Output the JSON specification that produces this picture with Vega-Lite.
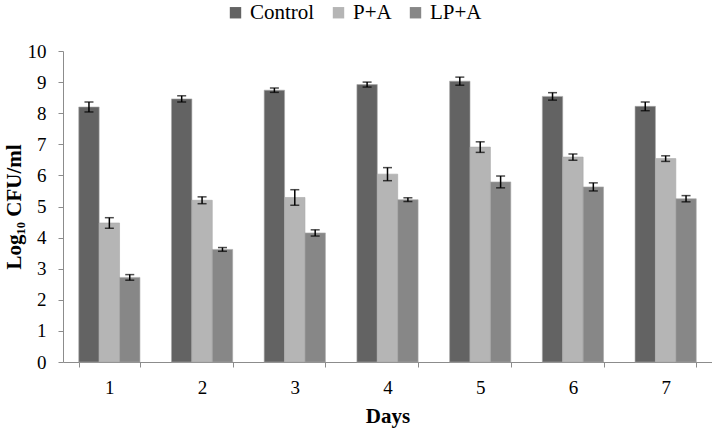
{
  "$schema": "https://vega.github.io/schema/vega-lite/v6.json",
  "autosize": "none",
  "width": 649,
  "height": 311,
  "padding": {"left": 63, "top": 51, "right": 0, "bottom": 66},
  "background": "white",
  "config": {
    "view": {"stroke": null},
    "font": "Liberation Serif",
    "axis": {"labelFont": "Liberation Serif", "titleFont": "Liberation Serif", "labelColor": "black", "titleColor": "black", "domainColor": "#8c8c8c", "tickColor": "#8c8c8c", "grid": false},
    "axisY": {"values": [0,1,2,3,4,5,6,7,8,9,10], "labelOverlap": false, "labelFontSize": 19, "titleFontSize": 21, "titleFontWeight": "bold", "tickSize": 5, "labelPadding": 12, "titlePadding": 3},
    "legend": {"labelFont": "Liberation Serif", "titleFont": "Liberation Serif", "labelFontSize": 21, "labelColor": "black"}
  },
  "data": {"values": [
    {"day": "1", "group": "Control", "v": 8.2, "lo": 8.04, "hi": 8.36},
    {"day": "1", "group": "P+A", "v": 4.47, "lo": 4.3, "hi": 4.64},
    {"day": "1", "group": "LP+A", "v": 2.72, "lo": 2.63, "hi": 2.81},
    {"day": "2", "group": "Control", "v": 8.46, "lo": 8.36, "hi": 8.56},
    {"day": "2", "group": "P+A", "v": 5.2, "lo": 5.09, "hi": 5.31},
    {"day": "2", "group": "LP+A", "v": 3.62, "lo": 3.56, "hi": 3.68},
    {"day": "3", "group": "Control", "v": 8.74, "lo": 8.67, "hi": 8.81},
    {"day": "3", "group": "P+A", "v": 5.29, "lo": 5.04, "hi": 5.54},
    {"day": "3", "group": "LP+A", "v": 4.15, "lo": 4.05, "hi": 4.25},
    {"day": "4", "group": "Control", "v": 8.92, "lo": 8.84, "hi": 9.0},
    {"day": "4", "group": "P+A", "v": 6.04, "lo": 5.83, "hi": 6.25},
    {"day": "4", "group": "LP+A", "v": 5.22, "lo": 5.16, "hi": 5.28},
    {"day": "5", "group": "Control", "v": 9.03, "lo": 8.9, "hi": 9.16},
    {"day": "5", "group": "P+A", "v": 6.91, "lo": 6.74, "hi": 7.08},
    {"day": "5", "group": "LP+A", "v": 5.79, "lo": 5.6, "hi": 5.98},
    {"day": "6", "group": "Control", "v": 8.54, "lo": 8.42, "hi": 8.66},
    {"day": "6", "group": "P+A", "v": 6.59, "lo": 6.49, "hi": 6.69},
    {"day": "6", "group": "LP+A", "v": 5.63, "lo": 5.5, "hi": 5.76},
    {"day": "7", "group": "Control", "v": 8.22, "lo": 8.08, "hi": 8.36},
    {"day": "7", "group": "P+A", "v": 6.54, "lo": 6.45, "hi": 6.63},
    {"day": "7", "group": "LP+A", "v": 5.25, "lo": 5.15, "hi": 5.35}
  ]},
  "encoding": {
    "x": {"field": "day", "type": "ordinal", "title": "Days",
      "scale": {"paddingInner": 0.34, "paddingOuter": 0.17},
      "axis": {"labelAngle": 0, "labelFontSize": 19, "titleFontSize": 21, "titleFontWeight": "bold", "tickBand": "extent", "tickSize": 5, "labelPadding": 11, "titlePadding": 8}},
    "xOffset": {"field": "group", "type": "nominal", "sort": ["Control", "P+A", "LP+A"]}
  },
  "layer": [
    {
      "mark": {"type": "bar", "stroke": "#a8a8a8", "strokeWidth": 0.6},
      "encoding": {
        "y": {"field": "v", "type": "quantitative", "title": "Log₁₀ CFU/ml",
          "scale": {"domain": [0, 10], "nice": false},
          "axis": {"values": [0,1,2,3,4,5,6,7,8,9,10], "labelOverlap": false}},
        "color": {"field": "group", "type": "nominal", "sort": ["Control", "P+A", "LP+A"],
          "scale": {"domain": ["Control", "P+A", "LP+A"], "range": ["#636363", "#b5b5b5", "#878787"]},
          "legend": {"title": null, "orient": "none", "direction": "horizontal", "legendX": 162, "legendY": -49, "symbolType": "square", "symbolSize": 130, "symbolStrokeWidth": 0, "labelFontSize": 21, "labelFont": "Liberation Serif", "labelColor": "black", "columnPadding": 13, "labelOffset": 4}}
      }
    },
    {
      "mark": {"type": "rule", "color": "black", "strokeWidth": 1.5},
      "encoding": {"y": {"field": "lo", "type": "quantitative", "title": "Log₁₀ CFU/ml", "axis": {"values": [0,1,2,3,4,5,6,7,8,9,10], "labelOverlap": false}}, "y2": {"field": "hi"}}
    },
    {
      "mark": {"type": "tick", "color": "black", "thickness": 1.5, "size": 9},
      "encoding": {"y": {"field": "lo", "type": "quantitative", "title": "Log₁₀ CFU/ml", "axis": {"values": [0,1,2,3,4,5,6,7,8,9,10], "labelOverlap": false}}}
    },
    {
      "mark": {"type": "tick", "color": "black", "thickness": 1.5, "size": 9},
      "encoding": {"y": {"field": "hi", "type": "quantitative", "title": "Log₁₀ CFU/ml", "axis": {"values": [0,1,2,3,4,5,6,7,8,9,10], "labelOverlap": false}}}
    }
  ]
}
